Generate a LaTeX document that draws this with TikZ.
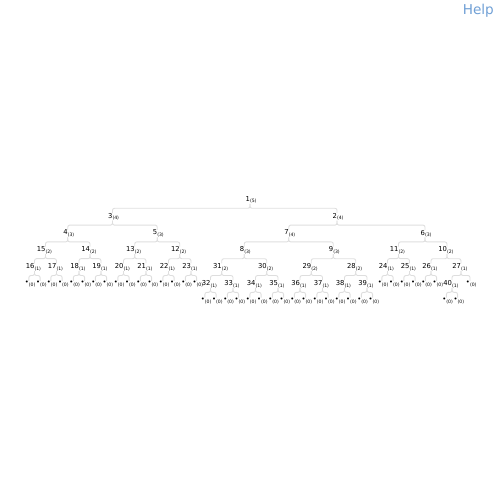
\documentclass[tikz,border=0pt]{standalone}
\usepackage{fontspec}
\setmainfont{DejaVu Sans}
\usetikzlibrary{calc}
\definecolor{edgegray}{HTML}{DEDEDE}
\definecolor{helpblue}{HTML}{6F9FD5}
\newcommand{\rk}[1]{\rlap{\raisebox{-1.6pt}{\fontsize{4.6}{5}\selectfont(#1)}}}
\tikzset{
  hn/.style={inner sep=0pt, font=\fontsize{6.8}{8}\selectfont},
  edge/.style={draw=edgegray, line width=0.9pt, rounded corners=2pt},
  helplink/.style={font=\fontsize{13.6}{16}\selectfont, text=helpblue, inner sep=0pt}
}

\begin{document}
\begin{tikzpicture}[x=1pt, y=-1pt]
\useasboundingbox (0,0) rectangle (500,501);
\node[helplink, anchor=base east] (help) at (494,14.5) {Help};
% heap nodes: name/x/level/rank
\foreach \n/\x/\l/\r in {1/250/0/5, 3/112.5/1/4, 2/337/1/4,
    4/67.75/2/3, 5/157.25/2/3, 7/288.75/2/4, 6/425/2/3,
    15/45.5/3/2, 14/90/3/2, 13/134.75/3/2, 12/179.75/3/2,
    8/244.25/3/3, 9/333.25/3/3, 11/398.5/3/2, 10/447/3/2,
    16/34.5/4/1, 17/56.5/4/1, 18/79/4/1, 19/101/4/1,
    20/123.5/4/1, 21/146/4/1, 22/168.5/4/1, 23/191/4/1,
    31/221.75/4/2, 30/266.75/4/2, 29/311.25/4/2, 28/355.75/4/2,
    24/387.5/4/1, 25/409.5/4/1, 26/431/4/1, 27/461/4/1,
    32/210.5/5/1, 33/233/5/1, 34/255.5/5/1, 35/278/5/1,
    36/300/5/1, 37/322.5/5/1, 38/344.5/5/1, 39/367/5/1, 40/452/5/1}
  \node[hn] (n\n) at (\x,{200+16.8*\l}) {\llap{\n}\rk{\r}};
% empty leaves
\foreach \p in {16,17,18,19,20,21,22,23,24,25,26,32,33,34,35,36,37,38,39,40} {
  \node[hn] (n\p a) at ($(n\p)+(-5.6,16.8)$) {\llap{•}\rk{0}};
  \node[hn] (n\p b) at ($(n\p)+(5.6,16.8)$) {\llap{•}\rk{0}};
  \draw[edge] (n\p.south) -- ++(0,4.5) -| (n\p a.north);
  \draw[edge] (n\p.south) -- ++(0,4.5) -| (n\p b.north);
}
\node[hn] (n27b) at ($(n27)+(9,16.8)$) {\llap{•}\rk{0}};
\foreach \p/\c in {1/3, 1/2, 3/4, 3/5, 2/7, 2/6, 4/15, 4/14, 5/13, 5/12,
    7/8, 7/9, 6/11, 6/10, 15/16, 15/17, 14/18, 14/19, 13/20, 13/21,
    12/22, 12/23, 8/31, 8/30, 9/29, 9/28, 11/24, 11/25, 10/26, 10/27,
    31/32, 31/33, 30/34, 30/35, 29/36, 29/37, 28/38, 28/39, 27/40, 27/27b}
  \draw[edge] (n\p.south) -- ++(0,4.5) -| (n\c.north);
\end{tikzpicture}
\end{document}
